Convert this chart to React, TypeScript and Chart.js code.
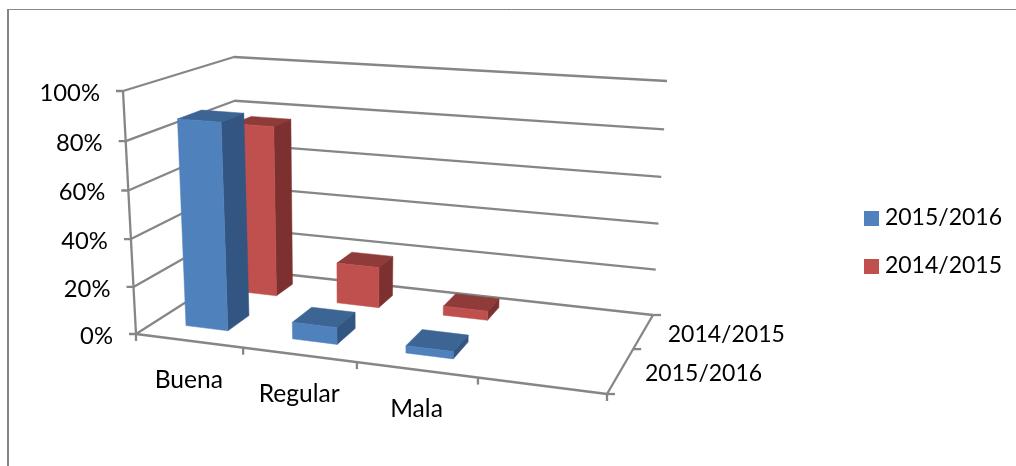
import React, { useEffect, useRef } from "react";
import { Chart, registerables } from "chart.js";

Chart.register(...registerables);

const categories = ["Buena", "Regular", "Mala", ""];
const seriesNames = ["2015/2016", "2014/2015"];
const values20152016 = [87, 7, 3, null];
const values20142015 = [76, 18, 4, null];
const yTickStep = 20;

const FONT = "Lato";
const GRID = "#868686";
const TEXT = "#000000";
const faces = [
  { front: "#4F81BD", side: "#325581", top: "#3D6594" },
  { front: "#C0504D", side: "#7C3130", top: "#8E3B39" },
];

// Projection box corners: [front/back][left/right][bottom/top]
const FLB = [136, 334], FRB = [607, 394], BLB = [238, 269], BRB = [653, 315];
const FLT = [123, 91], FRT = [617, 126], BLT = [234, 57], BRT = [667, 81];

const warp = (t: number, k: number) => t / (t + k * (1 - t));
const mix = (a: number[], b: number[], t: number) => [a[0] + (b[0] - a[0]) * t, a[1] + (b[1] - a[1]) * t];
const project = (u: number, v: number, w: number) => {
  const fu = warp(u, 1.132);
  const gv = warp(v, 0.76);
  const bottom = mix(mix(FLB, FRB, fu), mix(BLB, BRB, fu), gv);
  const top = mix(mix(FLT, FRT, fu), mix(BLT, BRT, fu), gv);
  return mix(bottom, top, warp(w, 1.04));
};

const poly = (ctx: CanvasRenderingContext2D, pts: number[][], fill: string) => {
  ctx.beginPath();
  pts.forEach((p, i) => (i ? ctx.lineTo(p[0], p[1]) : ctx.moveTo(p[0], p[1])));
  ctx.closePath();
  ctx.fillStyle = fill;
  ctx.fill();
  ctx.strokeStyle = fill;
  ctx.lineWidth = 0.5;
  ctx.stroke();
};

const line = (ctx: CanvasRenderingContext2D, pts: number[][]) => {
  ctx.beginPath();
  pts.forEach((p, i) => (i ? ctx.lineTo(p[0], p[1]) : ctx.moveTo(p[0], p[1])));
  ctx.stroke();
};

const swatch = (color: string) => {
  const c = document.createElement("canvas");
  c.width = 15;
  c.height = 15;
  const g = c.getContext("2d")!;
  g.fillStyle = color;
  g.fillRect(0, 0, 15, 15);
  return c;
};

const bars3d = {
  id: "bars3d",
  beforeDatasetsDraw(chart: any) {
    const { ctx, scales } = chart;
    const xs = scales.x;
    const ys = scales.y;
    const nCat = chart.data.labels.length;
    const nSer = chart.data.datasets.length;
    ctx.save();

    // outer frame
    ctx.strokeStyle = GRID;
    ctx.lineWidth = 2;
    line(ctx, [[8, 466], [8, 9]]);
    ctx.lineWidth = 1;
    line(ctx, [[7, 9.5], [1016, 9.5]]);

    // walls and gridlines
    ctx.lineWidth = 2.3;
    ctx.lineJoin = "round";
    const wOf = (val: number) => (ys.bottom - ys.getPixelForValue(val)) / ys.height;
    ctx.font = `23.8px ${FONT}`;
    ctx.fillStyle = TEXT;
    ctx.textBaseline = "middle";
    ctx.textAlign = "right";
    ys.ticks.forEach((t: any) => {
      const w = wOf(t.value);
      const front = project(0, 0, w);
      line(ctx, [[front[0] - 7, front[1]], front, project(0, 1, w), project(1, 1, w)]);
      ctx.fillStyle = TEXT;
      ctx.fillText(t.value + "%", front[0] - 23, front[1] + 2);
    });
    line(ctx, [project(0, 0, 0), project(0, 0, 1)]);

    // floor front edge and category ticks
    line(ctx, [project(0, 0, 0), project(1, 0, 0)]);
    ctx.font = `24.6px ${FONT}`;
    ctx.textAlign = "center";
    for (let i = 0; i <= nCat; i++) {
      const p = project(i / nCat, 0, 0);
      line(ctx, [p, [p[0], p[1] + 7]]);
      if (i < nCat && categories[i]) {
        const c = project((xs.getPixelForValue(i) - xs.left) / xs.width, 0, 0);
        ctx.fillText(chart.data.labels[i], c[0], c[1] + 39);
      }
    }

    // floor right edge, depth ticks and labels
    line(ctx, [project(1, 0, 0), project(1, 1, 0)]);
    ctx.font = `23px ${FONT}`;
    ctx.textAlign = "left";
    for (let j = 0; j <= nSer; j++) {
      const p = project(1, j / nSer, 0);
      line(ctx, [p, [p[0] + 8, p[1]]]);
      if (j < nSer) {
        const c = project(1, (j + 0.5) / nSer, 0);
        ctx.fillText(chart.data.datasets[j].label, c[0] + 24, c[1] + 4);
      }
    }

    // bars, back row first
    for (let s = nSer - 1; s >= 0; s--) {
      const meta = chart.getDatasetMeta(s);
      const v0 = (s + 0.3) / nSer;
      const v1 = (s + 0.7) / nSer;
      meta.data.forEach((bar: any, i: number) => {
        if (chart.data.datasets[s].data[i] == null) return;
        const u0 = (bar.x - bar.width / 2 - xs.left) / xs.width;
        const u1 = (bar.x + bar.width / 2 - xs.left) / xs.width;
        const w = (ys.bottom - bar.y) / ys.height;
        const c = faces[s];
        poly(ctx, [project(u0, v0, w), project(u1, v0, w), project(u1, v1, w), project(u0, v1, w)], c.top);
        poly(ctx, [project(u1, v0, 0), project(u1, v1, 0), project(u1, v1, w), project(u1, v0, w)], c.side);
        poly(ctx, [project(u0, v0, 0), project(u1, v0, 0), project(u1, v0, w), project(u0, v0, w)], c.front);
      });
    }
    ctx.restore();
    return false;
  },
};

export default function App() {
  const ref = useRef<HTMLCanvasElement>(null);
  useEffect(() => {
    const chart = new Chart(ref.current!, {
      type: "bar",
      data: {
        labels: categories,
        datasets: [
          { label: seriesNames[0], data: values20152016, backgroundColor: faces[0].front, grouped: false, barPercentage: 0.4, categoryPercentage: 1 },
          { label: seriesNames[1], data: values20142015, backgroundColor: faces[1].front, grouped: false, barPercentage: 0.4, categoryPercentage: 1 },
        ],
      } as any,
      options: {
        responsive: false,
        animation: false,
        layout: { padding: { right: 4, top: 18 } },
        scales: {
          x: { display: false },
          y: { display: false, min: 0, max: 100, ticks: { stepSize: yTickStep } },
        },
        plugins: {
          tooltip: { enabled: false },
          legend: {
            position: "right",
            labels: {
              usePointStyle: true,
              pointStyleWidth: 4,
              boxHeight: 15,
              padding: 25,
              color: TEXT,
              font: { family: FONT, size: 23 },
              generateLabels: (c: Chart) =>
                Chart.defaults.plugins.legend.labels.generateLabels(c).map((item: any, i: number) => ({
                  ...item,
                  pointStyle: swatch(faces[i].front),
                })),
            },
          },
        },
      },
      plugins: [bars3d],
    });
    return () => chart.destroy();
  }, []);
  return (
    <div style={{ position: "fixed", left: 0, top: 0, width: 1016, height: 466, background: "#fff" }}>
      <canvas ref={ref} width={1016} height={466} style={{ display: "block" }} />
    </div>
  );
}
